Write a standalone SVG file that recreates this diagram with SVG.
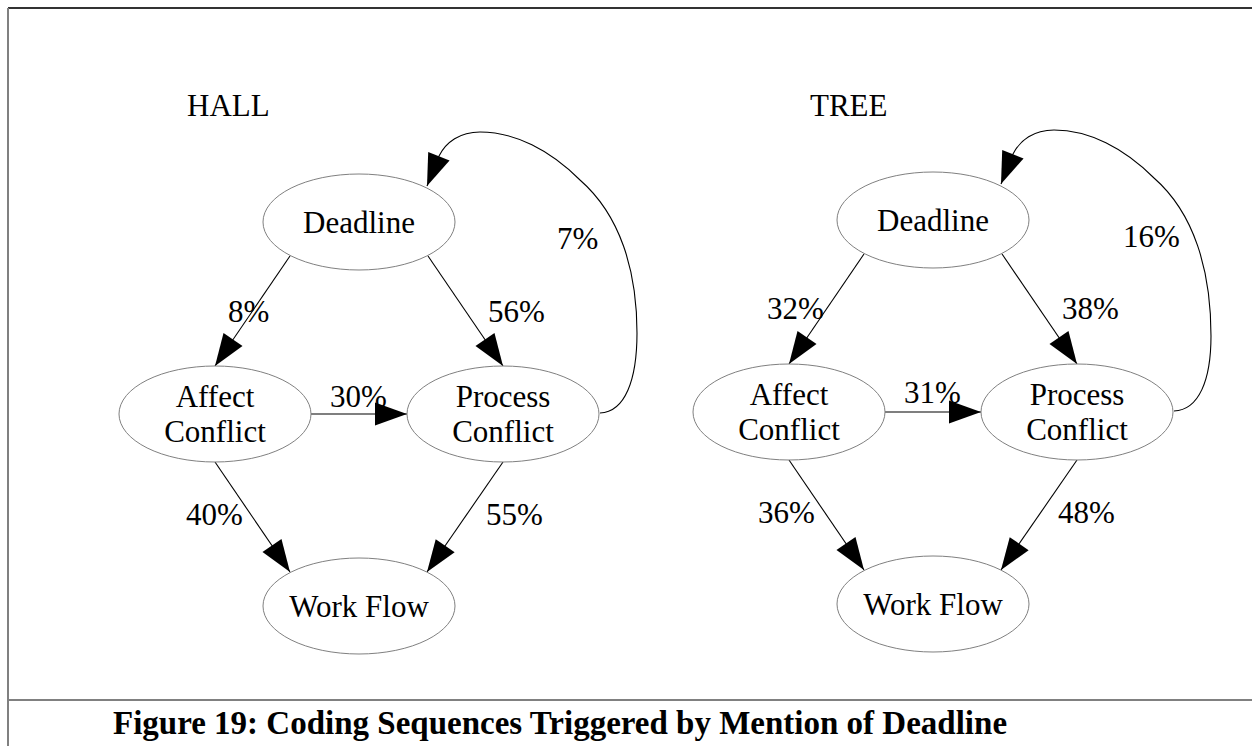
<svg xmlns="http://www.w3.org/2000/svg" width="1252" height="746" viewBox="0 0 1252 746">
  <style>
    .node ellipse { fill: #ffffff; stroke: #808080; stroke-width: 1; }
    .node text, .lbl { font-family: "Liberation Serif", "Times New Roman", serif; font-size: 31px; fill: #000; }
    .node text { text-anchor: middle; }
    .edge { fill: none; stroke: #000; stroke-width: 1.1; marker-end: url(#ah); }
    .frame { stroke-width: 2; fill: none; }
    .caption { font-family: "Liberation Serif", "Times New Roman", serif; font-size: 33px; font-weight: bold; text-anchor: middle; fill: #000; }
  </style>
  <defs>
    <marker id="ah" markerUnits="userSpaceOnUse" markerWidth="34" markerHeight="24" refX="32" refY="11.5" orient="auto" overflow="visible">
      <path d="M0,0 L32,11.5 L0,23 Z" fill="#000"/>
    </marker>
  </defs>

  <rect width="1252" height="746" fill="#ffffff"/>

  <!-- frame -->
  <g id="frame">
    <line class="frame" x1="8" y1="8" x2="1252" y2="8" stroke="#333"/>
    <line class="frame" x1="8" y1="8" x2="8" y2="746" stroke="#808080"/>
    <line class="frame" x1="8" y1="700" x2="1252" y2="700" stroke="#808080"/>
  </g>

  <!-- panel titles -->
  <text class="lbl" x="187" y="116">HALL</text>
  <text class="lbl" x="810" y="116">TREE</text>

  <!-- HALL connectors -->
  <g id="hall-edges">
    <path class="edge" d="M290,256 L215,366"/>
    <path class="edge" d="M428,256 L503,366"/>
    <path class="edge" d="M311,414 L407,414"/>
    <path class="edge" d="M215,462 L290,572"/>
    <path class="edge" d="M503,462 L427,572"/>
    <path class="edge" d="M600,413 C625,412 637,380 637,333 C637,270 620,215 580,180 C550,150 515,132 480,132 C460,132 446,142 439,156 L427,186"/>
  </g>

  <!-- HALL nodes -->
  <g id="hall-deadline" class="node">
    <ellipse cx="359" cy="222" rx="96" ry="48"/>
    <text x="359" y="233">Deadline</text>
  </g>
  <g id="hall-affect" class="node">
    <ellipse cx="215" cy="414" rx="96" ry="48"/>
    <text x="215" y="407">Affect</text>
    <text x="215" y="442">Conflict</text>
  </g>
  <g id="hall-process" class="node">
    <ellipse cx="503" cy="414" rx="96" ry="48"/>
    <text x="503" y="407">Process</text>
    <text x="503" y="442">Conflict</text>
  </g>
  <g id="hall-workflow" class="node">
    <ellipse cx="359" cy="606" rx="96" ry="48"/>
    <text x="359" y="617">Work Flow</text>
  </g>

  <!-- HALL edge labels -->
  <g id="hall-labels">
    <text class="lbl" x="228" y="322">8%</text>
    <text class="lbl" x="488" y="322">56%</text>
    <text class="lbl" x="557" y="249">7%</text>
    <text class="lbl" x="330" y="407">30%</text>
    <text class="lbl" x="186" y="525">40%</text>
    <text class="lbl" x="486" y="525">55%</text>
  </g>

  <!-- TREE connectors -->
  <g id="tree-edges" transform="translate(574,-2)">
    <path class="edge" d="M290,256 L215,366"/>
    <path class="edge" d="M428,256 L503,366"/>
    <path class="edge" d="M311,414 L407,414"/>
    <path class="edge" d="M215,462 L290,572"/>
    <path class="edge" d="M503,462 L427,572"/>
    <path class="edge" d="M600,413 C625,412 637,382 637,338 C637,272 620,215 580,180 C550,150 515,132 480,132 C460,132 446,142 439,156 L427,186"/>
  </g>

  <!-- TREE nodes -->
  <g id="tree-deadline" class="node">
    <ellipse cx="933" cy="220" rx="96" ry="48"/>
    <text x="933" y="231">Deadline</text>
  </g>
  <g id="tree-affect" class="node">
    <ellipse cx="789" cy="412" rx="96" ry="48"/>
    <text x="789" y="405">Affect</text>
    <text x="789" y="440">Conflict</text>
  </g>
  <g id="tree-process" class="node">
    <ellipse cx="1077" cy="412" rx="96" ry="48"/>
    <text x="1077" y="405">Process</text>
    <text x="1077" y="440">Conflict</text>
  </g>
  <g id="tree-workflow" class="node">
    <ellipse cx="933" cy="604" rx="96" ry="48"/>
    <text x="933" y="615">Work Flow</text>
  </g>

  <!-- TREE edge labels -->
  <g id="tree-labels">
    <text class="lbl" x="767" y="319">32%</text>
    <text class="lbl" x="1062" y="319">38%</text>
    <text class="lbl" x="1123" y="247">16%</text>
    <text class="lbl" x="904" y="403">31%</text>
    <text class="lbl" x="758" y="523">36%</text>
    <text class="lbl" x="1058" y="523">48%</text>
  </g>

  <text class="caption" x="560" y="734">Figure 19: Coding Sequences Triggered by Mention of Deadline</text>
</svg>
